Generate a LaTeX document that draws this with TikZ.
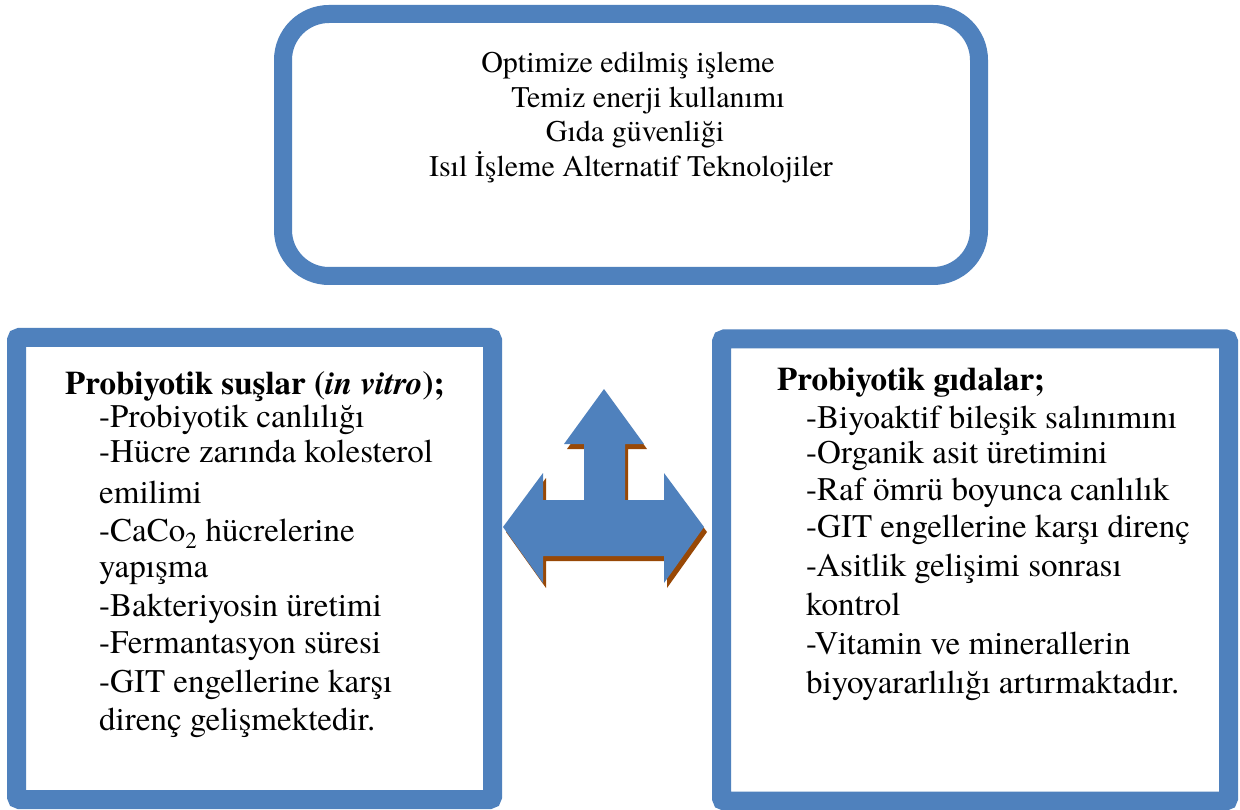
\documentclass[tikz,border=0pt]{standalone}
\usepackage{fontspec}
\setmainfont{texgyretermes}[Extension=.otf, UprightFont=*-regular, BoldFont=*-bold, ItalicFont=*-italic, BoldItalicFont=*-bolditalic]
\definecolor{boxblue}{RGB}{79,129,189}
\definecolor{shadowbrown}{RGB}{152,72,6}
\begin{document}
\begin{tikzpicture}[x=1pt,y=-1pt,
  topbox/.style={draw=boxblue, line width=18pt, rounded corners=46pt, fill=white, minimum width=696pt, minimum height=262pt, inner sep=0pt},
  sidebox/.style={draw=boxblue, line width=19pt, rounded corners=3pt, fill=white, inner sep=0pt},
  toptext/.style={anchor=base, inner sep=0pt, font=\fontsize{30}{35}\selectfont},
  boxtext/.style={anchor=base west, inner sep=0pt, font=\fontsize{33}{38}\selectfont}]
\useasboundingbox (0,0) rectangle (1240,810);
\fill[white] (0,0) rectangle (1240,810);

% top box
\node[topbox] (top) at (631,145) {};
\node[toptext] (t1) at (628,73) {Optimize edilmiş işleme};
\node[toptext] (t2) at (648,108) {Temiz enerji kullanımı};
\node[toptext] (t3) at (635,142) {Gıda güvenliği};
\node[toptext] (t4) at (631,177) {Isıl İşleme Alternatif Teknolojiler};

% left box
\node[sidebox, minimum width=476pt, minimum height=462pt] (left) at (254.5,568.5) {};
\node[boxtext] (l0) at (65,394) {\textbf{Probiyotik suşlar (\textit{in vitro});}};
\node[boxtext] (l1) at (99,427) {-Probiyotik canlılığı};
\node[boxtext] (l2) at (99,462) {-Hücre zarında kolesterol};
\node[boxtext] (l3) at (99,503) {emilimi};
\node[boxtext] (l4) at (99,541) {-CaCo\textsubscript{2} hücrelerine};
\node[boxtext] (l5) at (99,577) {yapışma};
\node[boxtext] (l6) at (99,616) {-Bakteriyosin üretimi};
\node[boxtext] (l7) at (99,653) {-Fermantasyon süresi};
\node[boxtext] (l8) at (99,692) {-GIT engellerine karşı};
\node[boxtext] (l9) at (99,730) {direnç gelişmektedir.};

% right box
\node[sidebox, minimum width=507pt, minimum height=462pt] (right) at (975,570) {};
\node[boxtext] (r0) at (777,390) {\textbf{Probiyotik gıdalar;}};
\node[boxtext] (r1) at (806,428) {-Biyoaktif bileşik salınımını};
\node[boxtext] (r2) at (806,463) {-Organik asit üretimini};
\node[boxtext] (r3) at (806,500) {-Raf ömrü boyunca canlılık};
\node[boxtext] (r4) at (806,537) {-GIT engellerine karşı direnç};
\node[boxtext] (r5) at (806,576) {-Asitlik gelişimi sonrası};
\node[boxtext] (r6) at (806,615) {kontrol};
\node[boxtext] (r7) at (806,654) {-Vitamin ve minerallerin};
\node[boxtext] (r8) at (806,693) {biyoyararlılığı artırmaktadır.};

% three-way arrow with shadow
\def\arrowpath{(604,389) -- (644,444) -- (625,444) -- (625,500) -- (664,500) -- (664,473) -- (704,527) -- (664,583) -- (664,556) -- (543,556) -- (543,583) -- (503,527) -- (543,473) -- (543,500) -- (584,500) -- (584,444) -- (564,444) -- cycle}
\fill[shadowbrown, shift={(3,5)}] \arrowpath;
\fill[boxblue] \arrowpath;
\end{tikzpicture}
\end{document}
